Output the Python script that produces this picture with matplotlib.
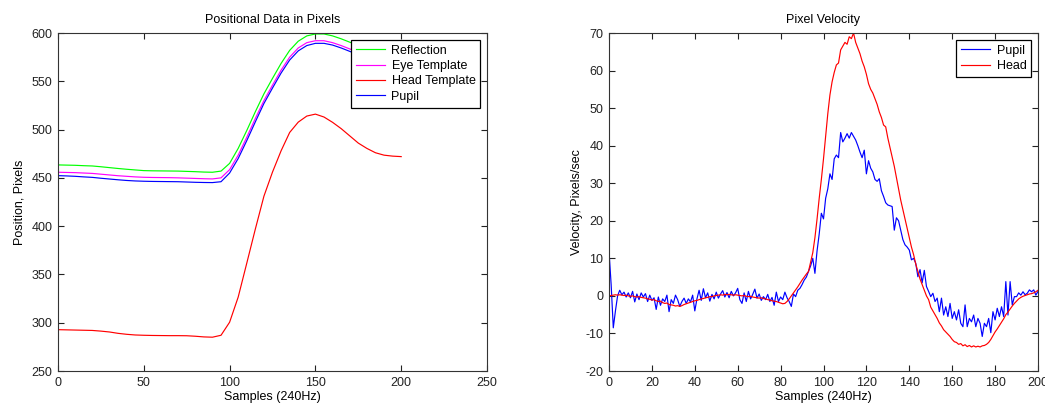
import matplotlib
matplotlib.use("Agg")
import matplotlib.pyplot as plt

plt.rcParams['font.family'] = ['Liberation Sans', 'DejaVu Sans']
plt.rcParams['font.size'] = 9
plt.rcParams['axes.unicode_minus'] = False

# ---------------- Left panel data (every 5 samples) ----------------
pos_x = list(range(0, 201, 5))
reflection = [463.4, 463.2, 463.0, 462.6, 462.3, 461.5, 460.6, 459.7, 458.9, 458.2,
              457.5, 457.3, 457.2, 457.1, 457.0, 456.7, 456.4, 456.0, 455.8, 457.0,
              465.0, 480.5, 499.0, 518.5, 537.0, 553.0, 568.5, 582.0, 591.5, 597.0,
              599.0, 599.0, 597.0, 594.0, 590.5, 587.0, 583.5, 580.5, 578.5, 577.0,
              576.5]
eye_template = [455.8, 455.6, 455.4, 455.0, 454.6, 453.8, 453.0, 452.2, 451.6, 451.0,
                450.6, 450.4, 450.3, 450.2, 450.0, 449.7, 449.4, 449.1, 448.9, 450.0,
                458.5, 473.5, 492.0, 511.5, 530.0, 546.0, 561.5, 575.0, 584.5, 590.0,
                592.0, 592.0, 590.0, 587.0, 583.5, 580.0, 576.5, 573.5, 571.5, 570.0,
                569.5]
head_template = [292.8, 292.6, 292.4, 292.2, 292.0, 291.3, 290.4, 289.0, 288.0, 287.3,
                 287.0, 286.8, 286.7, 286.6, 286.6, 286.5, 286.0, 285.3, 285.0, 287.0,
                 300.5, 326.5, 361.6, 397.0, 431.0, 456.0, 478.0, 497.0, 507.7, 514.0,
                 516.0, 513.0, 507.5, 501.0, 493.5, 486.0, 480.5, 476.0, 473.5, 472.5,
                 472.0]
pupil_pos = [452.3, 452.0, 451.6, 451.0, 450.5, 449.6, 448.8, 448.0, 447.3, 446.8,
             446.5, 446.3, 446.2, 446.1, 446.0, 445.7, 445.4, 445.2, 445.1, 446.0,
             455.0, 470.0, 488.5, 508.0, 527.0, 543.0, 558.5, 572.0, 581.5, 587.0,
             589.3, 589.3, 587.5, 584.5, 581.0, 577.5, 574.0, 571.0, 569.0, 567.5,
             567.0]

# ---------------- Right panel data (every sample) ----------------
vel_x = list(range(0, 201))
pupil_vel = [
    12.0, 3.0, -8.5, -4.0, 0.0, 1.5, 0.3, 1.0, -0.3, 0.8,
    -0.5, 1.2, -1.6, 0.5, -1.0, 0.8, -0.3, 0.6, -1.5, 0.2,
    -1.2, -0.5, -3.6, -0.3, -2.5, -0.8, -1.5, 0.2, -4.2, -1.0,
    -2.0, 0.2, -1.0, -2.8, -1.5, -0.6, -2.0, -0.8, -1.6, 0.2,
    -4.0, -0.8, 1.5, -1.2, 1.9, -0.5, 0.8, -1.4, 0.4, -0.8,
    1.0, -0.6, 0.5, 1.4, -0.3, 0.9, -0.5, 1.2, 0.0, 0.8,
    2.0, -1.0, -2.0, 0.8, -1.5, 1.2, -0.8, 0.4, 1.8, -0.6,
    0.5, -1.2, -0.2, -1.0, 0.4, -1.5, -0.4, -2.5, 1.0, -1.5,
    -0.3, -1.0, 1.0, -0.5, -1.5, -2.8, 0.5, -0.2, 1.5, 2.0,
    3.0, 4.2, 5.0, 6.5, 8.0, 10.0, 6.0, 12.0, 16.5, 22.0,
    20.5, 26.0, 28.5, 32.5, 31.0, 36.5, 37.5, 36.8, 43.5, 41.0,
    42.0, 43.2, 42.0, 43.5, 42.5, 41.5, 40.0, 38.3, 36.8, 38.8,
    32.5, 36.0, 34.0, 33.0, 31.0, 30.5, 31.2, 28.0, 26.5, 24.8,
    24.2, 24.0, 23.8, 17.5, 20.8, 20.0, 17.5, 15.0, 13.6, 13.0,
    12.2, 9.6, 10.0, 8.7, 5.1, 7.0, 3.5, 6.8, 2.5, 1.2,
    -0.2, 0.7, -1.5, -0.6, -4.2, -0.6, -5.1, -2.9, -5.5, -2.0,
    -6.0, -4.2, -6.4, -3.7, -7.3, -8.2, -2.4, -8.2, -6.0, -6.9,
    -5.1, -8.2, -6.0, -7.3, -10.8, -7.3, -8.2, -6.0, -9.8, -4.2,
    -6.4, -3.3, -5.5, -2.9, -5.5, 3.8, -5.1, 3.8, -2.4, -0.2,
    -0.2, 0.8, 0.2, 1.1, 0.3, 0.7, 1.6, 1.1, 1.6, 0.2,
    1.2]
head_vel = [
    0.0, 0.1, 0.2, 0.3, 0.2, 0.3, 0.2, 0.1, 0.2, 0.0,
    -0.1, 0.0, -0.2, -0.3, -0.2, -0.4, -0.5, -0.6, -0.8, -0.9,
    -1.1, -1.0, -1.3, -1.5, -1.4, -1.8, -2.0, -1.9, -2.3, -2.4,
    -2.5, -2.7, -2.6, -2.8, -2.6, -2.3, -2.1, -1.9, -1.7, -1.5,
    -1.3, -1.2, -1.0, -0.8, -0.7, -0.5, -0.4, -0.2, -0.2, 0.0,
    0.1, 0.2, 0.3, 0.2, 0.4, 0.3, 0.4, 0.3, 0.2, 0.3,
    0.2, 0.1, 0.0, 0.1, -0.1, -0.2, -0.1, -0.3, -0.4, -0.5,
    -0.6, -0.5, -0.7, -0.8, -1.0, -1.1, -1.3, -1.4, -1.5, -1.7,
    -1.9, -2.1, -2.0, -1.5, -0.8, 0.0, 0.8, 1.6, 2.4, 3.3,
    4.2, 5.0, 5.8, 6.5, 9.0, 11.5, 15.5, 20.5, 26.0, 31.0,
    36.5, 42.5, 48.5, 53.5, 57.0, 59.5, 61.5, 62.0, 65.5, 66.5,
    67.5, 67.0, 69.0, 68.5, 70.0, 67.5, 66.0, 64.5, 62.5, 61.0,
    59.0, 56.5, 55.0, 54.0, 52.5, 51.0, 49.0, 47.5, 45.5, 45.0,
    42.0, 39.5, 37.0, 34.5, 31.5, 28.5, 25.5, 23.0, 20.5, 18.0,
    15.5, 13.0, 11.0, 8.5, 6.5, 4.5, 3.0, 1.5, 0.0, -1.0,
    -3.0, -4.0, -5.0, -6.0, -7.2, -8.0, -9.0, -9.6, -10.2, -10.8,
    -11.6, -12.2, -12.4, -12.9, -12.7, -13.3, -13.0, -13.5, -13.2, -13.6,
    -13.3, -13.6, -13.4, -13.6, -13.3, -13.2, -12.9, -12.4, -11.6, -10.6,
    -9.6, -8.8, -7.9, -7.0, -6.1, -5.0, -4.3, -3.5, -2.7, -2.0,
    -1.4, -0.8, -0.4, -0.1, 0.1, 0.3, 0.5, 0.6, 0.8, 1.1,
    1.5]

left_xticks = [0, 50, 100, 150, 200, 250]
left_yticks = [250, 300, 350, 400, 450, 500, 550, 600]
right_xticks = list(range(0, 201, 20))
right_yticks = list(range(-20, 71, 10))

W, H = 1045, 407
fig = plt.figure(figsize=(W / 100, H / 100), dpi=100)
fig.patch.set_facecolor('white')

axL = fig.add_axes([58 / W, 1 - 371 / H, 429 / W, 338 / H])
axR = fig.add_axes([609 / W, 1 - 371 / H, 429 / W, 338 / H])

lw = 0.85
axL.plot(pos_x, reflection, color='#00ff00', lw=lw, label='Reflection')
axL.plot(pos_x, eye_template, color='#ff00ff', lw=lw, label='Eye Template')
axL.plot(pos_x, head_template, color='#ff0000', lw=lw, label='Head Template')
axL.plot(pos_x, pupil_pos, color='#0000ff', lw=lw, label='Pupil')
axL.set_xlim(0, 250)
axL.set_ylim(250, 600)
axL.set_xticks(left_xticks)
axL.set_yticks(left_yticks)
axL.set_title('Positional Data in Pixels', fontsize=9, pad=7)
axL.set_xlabel('Samples (240Hz)', fontsize=9, labelpad=2)
axL.set_ylabel('Position, Pixels', fontsize=9, labelpad=4)

axR.plot(vel_x, pupil_vel, color='#0000ff', lw=lw, label='Pupil')
axR.plot(vel_x, head_vel, color='#ff0000', lw=lw, label='Head')
axR.set_xlim(0, 200)
axR.set_ylim(-20, 70)
axR.set_xticks(right_xticks)
axR.set_yticks(right_yticks)
axR.set_title('Pixel Velocity', fontsize=9, pad=7)
axR.set_xlabel('Samples (240Hz)', fontsize=9, labelpad=2)
axR.set_ylabel('Velocity, Pixels/sec', fontsize=9, labelpad=2)

for ax in (axL, axR):
    ax.tick_params(direction='in', length=4, width=0.8, top=True, right=True,
                   labelsize=9, pad=4, colors='#222222')
    for s in ax.spines.values():
        s.set_color('#333333')
        s.set_linewidth(0.8)
    leg = ax.legend(loc='upper right', fancybox=False, framealpha=1,
                    edgecolor='black', fontsize=9, handlelength=2.3,
                    borderaxespad=0.55, labelspacing=0.27, handletextpad=0.55,
                    borderpad=0.38)
    leg.get_frame().set_linewidth(0.9)

fig.savefig('out.png', dpi=100)
